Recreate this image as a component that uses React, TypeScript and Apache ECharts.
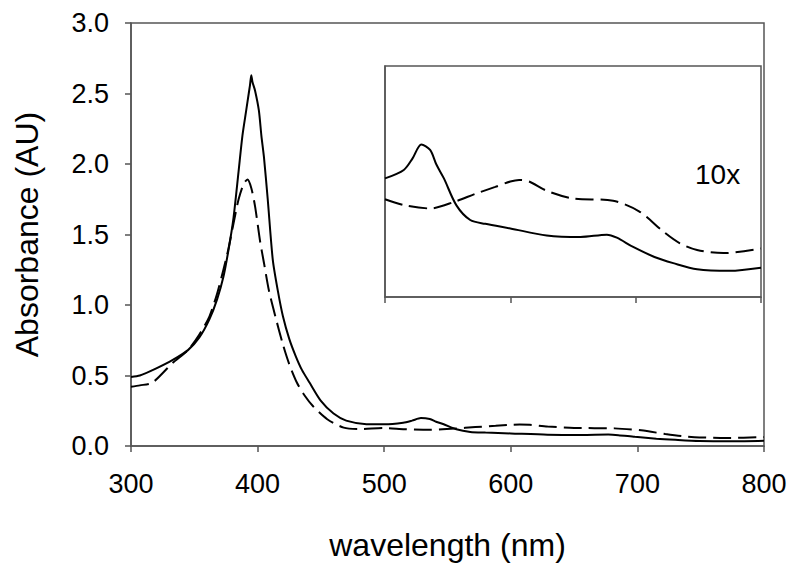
import React, { useEffect, useRef } from "react";
import * as echarts from "echarts";

// Solid spectrum (absorbance, AU)
const solidWavelengths = [300,307,320,333,345,354,362,368,373,377,381,385,388,391,393,394,395,396,398,401,403,405,408,412,416,420,425,430,435,441,450,460,470,486,500,515,522,529,536,541,547,557,568,580,600,629,656,677,685,698,715,730,749,775,800];
const solidValues = [0.49,0.50,0.55,0.61,0.68,0.77,0.90,1.04,1.20,1.39,1.62,1.95,2.20,2.38,2.50,2.56,2.63,2.58,2.52,2.38,2.20,2.05,1.75,1.32,1.10,0.92,0.76,0.64,0.54,0.45,0.32,0.23,0.18,0.155,0.154,0.165,0.180,0.198,0.191,0.172,0.154,0.119,0.100,0.095,0.089,0.080,0.078,0.081,0.077,0.065,0.052,0.044,0.036,0.034,0.038];

// Dashed spectrum (absorbance, AU)
const dashedWavelengths = [300,307,317,333,345,354,362,368,373,377,381,385,389,392,395,398,402,405,409,414,420,425,431,437,444,455,468,480,500,516,536,556,572,588,600,607,615,629,650,682,703,722,735,749,770,800];
const dashedValues = [0.42,0.43,0.45,0.59,0.68,0.79,0.92,1.08,1.25,1.40,1.58,1.75,1.86,1.89,1.83,1.70,1.45,1.30,1.10,0.92,0.72,0.58,0.45,0.36,0.28,0.19,0.13,0.12,0.127,0.119,0.115,0.124,0.134,0.143,0.150,0.152,0.150,0.138,0.128,0.125,0.111,0.085,0.070,0.061,0.057,0.063];

const insetFactor = 10;
const insetLabel = "10x";
const xName = "wavelength (nm)";
const yName = "Absorbance (AU)";

const FONT = "'Liberation Sans', Arial, sans-serif";
const AXIS = "#555";

function pairs(xs: number[], ys: number[], minX = -Infinity, factor = 1) {
  const out: number[][] = [];
  xs.forEach((x, i) => {
    if (x >= minX) out.push([x, ys[i] * factor]);
  });
  return out;
}

export default function App() {
  const ref = useRef<HTMLDivElement>(null);
  useEffect(() => {
    if (!ref.current) return;
    const chart = echarts.init(ref.current, undefined, { renderer: "svg" });
    const solidLine = { color: "#000", width: 2, type: "solid" as const };
    const dashLine = { color: "#000", width: 2, type: [18, 7] as any };
    chart.setOption({
      animation: false,
      backgroundColor: "#fff",
      grid: [
        { left: 131, top: 23, width: 633, height: 423, show: true, borderColor: AXIS, borderWidth: 1.5, backgroundColor: "transparent" },
        { left: 385, top: 66, width: 376, height: 231, show: true, borderColor: AXIS, borderWidth: 1.5, backgroundColor: "#fff" },
      ],
      xAxis: [
        {
          type: "value", gridIndex: 0, min: 300, max: 800, interval: 100,
          axisLine: { show: true, lineStyle: { color: AXIS, width: 1.5 } },
          axisTick: { show: true, inside: false, length: 6, lineStyle: { color: AXIS, width: 1.5 } },
          splitLine: { show: false },
          axisLabel: { fontSize: 27, color: "#000", fontFamily: FONT, margin: 24 },
          name: xName, nameLocation: "middle", nameGap: 83,
          nameTextStyle: { fontSize: 32, color: "#000", fontFamily: FONT },
        },
        {
          type: "value", gridIndex: 1, min: 500, max: 800, interval: 100,
          axisLine: { show: true, lineStyle: { color: AXIS, width: 1.5 } },
          axisTick: { show: true, inside: false, length: 6, lineStyle: { color: AXIS, width: 1.5 } },
          splitLine: { show: false },
          axisLabel: { show: false },
        },
      ],
      yAxis: [
        {
          type: "value", gridIndex: 0, min: 0, max: 3, interval: 0.5,
          axisLine: { show: true, lineStyle: { color: AXIS, width: 1.5 } },
          axisTick: { show: true, inside: false, length: 6, lineStyle: { color: AXIS, width: 1.5 } },
          splitLine: { show: false },
          axisLabel: { fontSize: 27, color: "#000", fontFamily: FONT, margin: 22, formatter: (v: number) => v.toFixed(1) },
          name: yName, nameLocation: "middle", nameGap: 88,
          nameTextStyle: { fontSize: 32, color: "#000", fontFamily: FONT },
        },
        {
          type: "value", gridIndex: 1, min: 0, max: 3,
          axisLine: { show: true, lineStyle: { color: AXIS, width: 1.5 } },
          axisTick: { show: false },
          splitLine: { show: false },
          axisLabel: { show: false },
        },
      ],
      series: [
        { type: "line", xAxisIndex: 0, yAxisIndex: 0, data: pairs(solidWavelengths, solidValues), showSymbol: false, smooth: 0.25, lineStyle: solidLine, z: 3 },
        { type: "line", xAxisIndex: 0, yAxisIndex: 0, data: pairs(dashedWavelengths, dashedValues), showSymbol: false, smooth: 0.25, lineStyle: dashLine, z: 3 },
        { type: "line", xAxisIndex: 1, yAxisIndex: 1, data: pairs(solidWavelengths, solidValues, 500, insetFactor), showSymbol: false, smooth: 0.3, lineStyle: solidLine, z: 5 },
        { type: "line", xAxisIndex: 1, yAxisIndex: 1, data: pairs(dashedWavelengths, dashedValues, 500, insetFactor), showSymbol: false, smooth: 0.3, lineStyle: dashLine, z: 5 },
      ],
      graphic: [
        {
          type: "text", left: 695, top: 160, z: 10,
          style: { text: insetLabel, fontSize: 28, fill: "#000", fontFamily: FONT },
        },
      ],
    });
    return () => chart.dispose();
  }, []);
  return <div ref={ref} style={{ position: "absolute", left: 0, top: 0, width: 800, height: 577 }} />;
}
